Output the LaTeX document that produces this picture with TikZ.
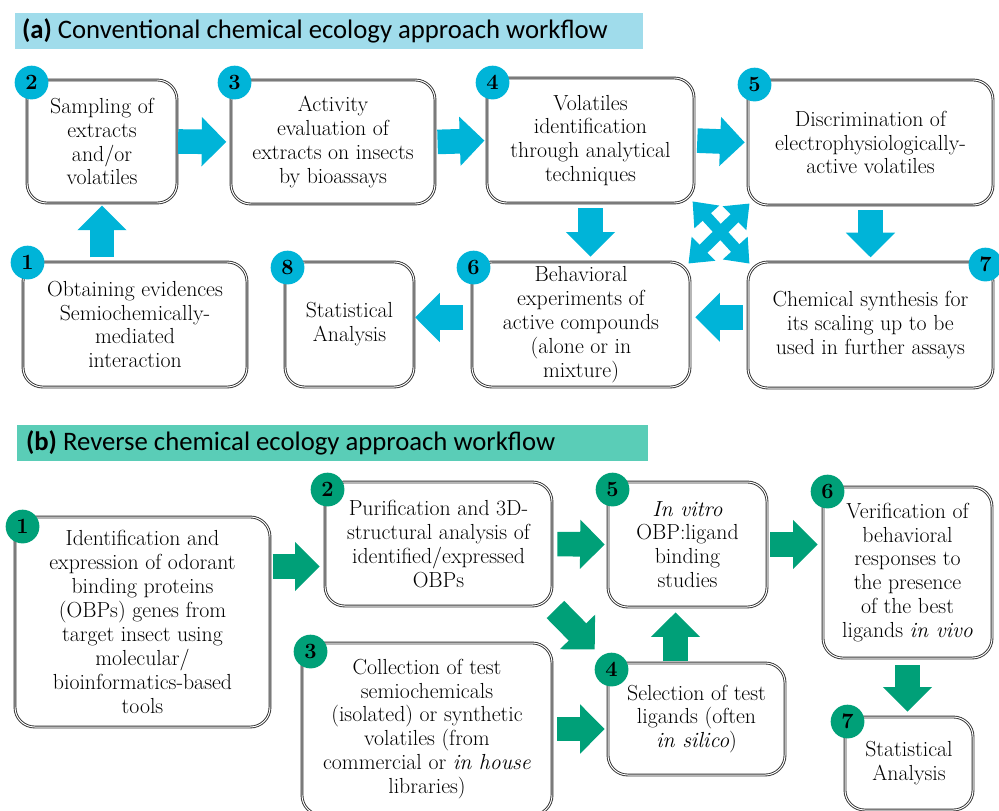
\documentclass[tikz,border=0pt]{standalone}
\usepackage{fontspec}
\newfontfamily\headfont{Carlito}
\usetikzlibrary{fit, positioning, arrows.meta, calc}
\definecolor{cyanA}{RGB}{0,180,216}
\definecolor{headA}{RGB}{160,220,235}
\definecolor{greenB}{RGB}{0,160,120}
\definecolor{headB}{RGB}{90,205,183}
\tikzset{
  stepbox/.style={draw=black!80, double=white, double distance=0.7pt, line width=0.65pt, rounded corners=14pt, align=center, inner sep=0pt, font=\fontsize{15.5}{17}\selectfont},
  dims/.style 2 args={minimum width=#1*0.025cm, minimum height=#2*0.025cm},
  badgeA/.style={circle, fill=cyanA, inner sep=0pt, minimum size=24pt, font=\fontsize{15.5}{15.5}\selectfont\bfseries},
  badgeB/.style={badgeA, fill=greenB},
  flowA/.style={line width=17.5pt, cyanA, -{Triangle[length=17.5pt, width=34pt]}},
  flowB/.style={flowA, greenB},
  crossA/.style={line width=8pt, cyanA, {Triangle[length=15pt, width=23pt]}-{Triangle[length=15pt, width=23pt]}},
  headbar/.style={inner sep=0pt, anchor=west, font=\headfont\fontsize{19}{21}\selectfont}
}

\begin{document}
\begin{tikzpicture}[x=0.025cm, y=-0.025cm]
\useasboundingbox (0,0) rectangle (999,810);

% (a) conventional workflow
\node[fill=headA, inner sep=0pt, fit={(15,13) (643,49)}] (hdra) {};
\node[headbar] (tita) at ($(hdra.west)+(7,0)$) {\textbf{(a)} Conventional chemical ecology approach workflow};

\node[stepbox, dims={224}{125}] (a1) at (135,324.5) {Obtaining evidences\\Semiochemically-\\mediated\\interaction};
\node[stepbox, dims={150}{123}] (a2) at (102,141.5) {Sampling of\\extracts\\and/or\\volatiles};
\node[stepbox, dims={204}{124}] (a3) at (333,142) {Activity\\evaluation of\\extracts on insects\\by bioassays};
\node[stepbox, dims={207}{125}] (a4) at (590.5,140.5) {Volatiles\\identification\\through analytical\\techniques};
\node[stepbox, dims={245}{125}] (a5) at (870.5,142.5) {Discrimination of\\electrophysiologically-\\active volatiles};
\node[stepbox, dims={218}{125}] (a6) at (581,324.5) {Behavioral\\experiments of\\active compounds\\(alone or in\\mixture)};
\node[stepbox, dims={245}{126}] (a7) at (870.5,325) {Chemical synthesis for\\its scaling up to be\\used in further assays};
\node[stepbox, dims={129}{125}] (a8) at (349.5,324.5) {Statistical\\Analysis};

\node[badgeA] (na1) at ($(a1.north west)+(5,1)$) {1};
\node[badgeA] (na2) at ($(a2.north west)+(5,3)$) {2};
\node[badgeA] (na3) at ($(a3.north west)+(4,3)$) {3};
\node[badgeA] (na4) at ($(a4.north west)+(6,5)$) {4};
\node[badgeA] (na5) at ($(a5.north west)+(7,5)$) {5};
\node[badgeA] (na6) at ($(a6.north west)+(2,6)$) {6};
\node[badgeA] (na7) at ($(a7.north east)+(-8,3)$) {7};
\node[badgeA] (na8) at ($(a8.north west)+(3,6)$) {8};

\draw[flowA, shorten <=3pt, shorten >=1.5pt] (a2.south |- a1.north) -- (a2.south);
\draw[flowA, shorten <=0.5pt, shorten >=3pt] (a2.east) -- (a3.west);
\draw[flowA, shorten <=1.5pt, shorten >=1.5pt] (a3.east) -- (a4.west);
\draw[flowA, shorten <=2pt, shorten >=2pt] (a4.east) -- (a5.west);
\draw[flowA, shorten <=3.5pt, shorten >=3.5pt] (a4.south) -- (a4.south |- a6.north);
\draw[flowA, shorten <=3.5pt, shorten >=3pt] (a5.south) -- (a5.south |- a7.north);
\coordinate (m76) at ([yshift=5.5pt]a7.west);
\draw[flowA, shorten <=3.5pt, shorten >=3.5pt] (m76) -- (m76 -| a6.east);
\coordinate (m68) at ([yshift=5pt]a6.west);
\draw[flowA, shorten <=6pt, shorten >=0.5pt] (m68) -- (m68 -| a8.east);
\draw[crossA, shorten <=-2pt, shorten >=-2pt] (a4.south east) -- (a7.north west);
\draw[crossA, shorten <=-2pt, shorten >=-2pt] (a6.north east) -- (a5.south west);

% (b) reverse workflow
\node[fill=headB, inner sep=0pt, fit={(17,425) (648,461)}] (hdrb) {};
\node[headbar] (titb) at ($(hdrb.west)+(9,0)$) {\textbf{(b)} Reverse chemical ecology approach workflow};

\node[stepbox, dims={255}{210}] (b1) at (142.5,622) {Identification and\\expression of odorant\\binding proteins\\(OBPs) genes from\\target insect using\\molecular/\\bioinformatics-based\\tools};
\node[stepbox, dims={227}{124}] (b2) at (438.5,544) {Purification and 3D-\\structural analysis of\\identified/expressed\\OBPs};
\node[stepbox, dims={250}{172}] (b3) at (427,729) {Collection of test\\semiochemicals\\(isolated) or synthetic\\volatiles (from\\commercial or \textit{in house}\\libraries)};
\node[stepbox, dims={177}{112}] (b4) at (696.5,719) {Selection of test\\ligands (often\\\textit{in silico})};
\node[stepbox, dims={159}{125}] (b5) at (687.5,544.5) {\textit{In vitro}\\OBP:ligand\\binding\\studies};
\node[stepbox, dims={169}{171}] (b6) at (907.5,572.5) {Verification of\\behavioral\\responses to\\the presence\\of the best\\ligands \textit{in vivo}};
\node[stepbox, dims={128}{93}] (b7) at (909,763.5) {Statistical\\Analysis};

\node[badgeB] (nb1) at ($(b1.north west)+(8,10)$) {1};
\node[badgeB] (nb2) at ($(b2.north west)+(3,8)$) {2};
\node[badgeB] (nb3) at ($(b3.north west)+(9,9)$) {3};
\node[badgeB] (nb4) at ($(b4.north west)+(4,7)$) {4};
\node[badgeB] (nb5) at ($(b5.north west)+(5,8)$) {5};
\node[badgeB] (nb6) at ($(b6.north west)+(5,5)$) {6};
\node[badgeB] (nb7) at ($(b7.north west)+(3,5)$) {7};

\coordinate (m12) at ([yshift=-16pt]b2.west);
\draw[flowB, shorten <=1.5pt, shorten >=3.5pt] (m12 -| b1.east) -- (m12);
\draw[flowB, shorten <=3.5pt, shorten >=2pt] (b2.east) -- (b5.west);
\draw[flowB, shorten <=2pt, shorten >=3.5pt] (b5.east) -- (b5.east -| b6.west);
\draw[flowB, shorten <=3pt, shorten >=13pt] (b2.south east) -- (b4.north west);
\draw[flowB, shorten <=3.5pt, shorten >=2pt] (b3.east) -- (b3.east -| b4.west);
\coordinate (m45) at ([xshift=-8.5pt]b5.south);
\draw[flowB, shorten <=1pt, shorten >=3.5pt] (m45 |- b4.north) -- (m45);
\draw[flowB, shorten <=5pt, shorten >=3.5pt] (b6.south) -- (b6.south |- b7.north);

\end{tikzpicture}
\end{document}
